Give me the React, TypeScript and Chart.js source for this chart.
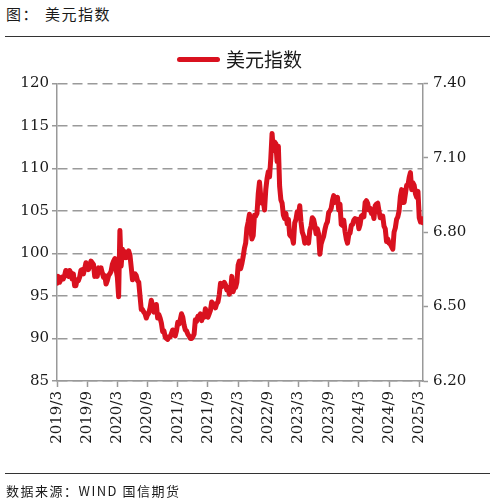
import React, { useEffect, useRef } from "react";
import { Chart, registerables } from "chart.js";

Chart.register(...registerables);

// x tick labels (every 6 months starting 2019/3) and their month offsets
const tickLabels = ["2019/3", "2019/9", "2020/3", "2020/9", "2021/3", "2021/9", "2022/3", "2022/9", "2023/3", "2023/9", "2024/3", "2024/9", "2025/3"];
const tickMonths = [0, 6, 12, 18, 24, 30, 36, 42, 48, 54, 60, 66, 72];
const leftTicks = [85, 90, 95, 100, 105, 110, 115, 120];
const rightTicks = [6.2, 6.5, 6.8, 7.1, 7.4];

// weekly readings (4 per month), starting March 2019
const dxy2019 = [
  96.5, 97.3, 96.6, 96.9, 97.2, 97.0, 97.4, 98.0, 97.5, 97.3, 98.0, 97.7,
  97.0, 97.6, 96.2, 96.2, 96.9, 96.8, 97.2, 98.0, 98.1, 97.6, 98.2, 98.9,
  98.4, 98.1, 98.5, 99.1, 98.9, 98.7, 97.3, 97.8, 97.3, 98.3, 98.1, 98.3,
  97.7, 97.2, 97.4, 96.4,
];
const dxy2020 = [
  96.8, 97.4, 97.6, 97.9, 98.7, 99.1, 99.4, 98.1, 97.2, 94.9, 102.7, 98.5,
  100.5, 99.5, 100.2, 99.5, 99.6, 100.3, 99.8, 98.4, 96.9, 97.3, 97.6, 97.4,
  96.8, 96.6, 95.0, 93.4, 93.4, 93.1, 92.9, 92.4, 92.8, 93.0, 93.6, 94.5,
  93.8, 93.1, 93.2, 94.0, 92.4, 92.8, 92.4, 91.8, 90.8, 90.9, 90.2, 90.0,
];
const dxy2021 = [
  89.9, 90.2, 90.2, 90.6, 91.0, 90.5, 90.3, 90.9, 91.9, 91.7, 92.2, 92.9,
  92.5, 91.6, 91.0, 90.9, 90.5, 90.3, 90.0, 90.0, 90.2, 90.5, 92.2, 92.0,
  92.6, 92.5, 92.9, 92.1, 92.8, 92.5, 93.5, 92.7, 92.5, 92.9, 93.3, 94.3,
  94.1, 93.9, 93.6, 94.1, 94.3, 95.1, 96.5, 96.1, 96.2, 96.6, 96.3, 95.7,
];
const dxy2022 = [
  96.0, 95.2, 95.6, 97.3, 95.5, 96.0, 96.0, 96.6, 98.6, 99.1, 98.2, 98.8,
  99.6, 100.6, 101.2, 103.0, 103.7, 104.6, 103.0, 101.7, 102.1, 104.5, 104.4, 104.7,
  107.0, 108.4, 106.7, 105.9, 106.2, 105.1, 107.5, 108.8, 109.6, 109.0, 111.2, 114.1,
  112.1, 113.1, 112.9, 110.8, 112.6, 107.9, 106.3, 105.9, 104.5, 104.1, 104.7, 103.5,
];
const dxy2023 = [
  104.0, 102.2, 102.0, 101.9, 101.2, 103.6, 104.0, 104.9, 104.5, 105.6, 103.7, 102.5,
  102.1, 101.2, 101.8, 101.6, 101.2, 102.7, 103.2, 104.2, 104.0, 103.3, 102.3, 102.9,
  102.3, 99.9, 101.1, 101.6, 102.0, 102.8, 103.4, 103.7, 104.8, 105.0, 105.3, 106.2,
  106.8, 106.0, 106.2, 106.6, 105.1, 105.8, 103.4, 103.3, 103.9, 102.6, 101.7, 101.2,
];
const dxy2024 = [
  102.2, 102.4, 103.3, 103.4, 103.9, 104.1, 103.9, 104.0, 102.9, 103.4, 104.4, 104.5,
  104.3, 106.0, 106.2, 105.9, 105.1, 105.3, 104.7, 104.8, 104.1, 105.6, 105.8, 105.9,
  105.0, 104.2, 104.4, 104.4, 103.2, 102.9, 101.4, 101.7, 101.2, 101.1, 100.8, 100.5,
  102.5, 103.0, 104.0, 104.3, 105.0, 106.7, 107.5, 106.0, 106.0, 107.0, 108.0, 108.0,
];
const dxy2025 = [
  108.9, 109.5, 107.5, 108.3, 108.0, 107.0, 106.6, 107.3, 104.2, 103.7, 104.1, 103.6,
];

const RED = "#d9111f";
const GRID = "#9a9a9a";
const AXIS = "#999999";
const TEXT = "#1a1a1a";
const CJK = '"Noto Sans CJK SC", "Noto Sans", sans-serif';
const NUM = '"DejaVu Serif", serif';

function DxyChart() {
  const ref = useRef<HTMLCanvasElement | null>(null);
  useEffect(() => {
    if (!ref.current) return;
    const values = [...dxy2019, ...dxy2020, ...dxy2021, ...dxy2022, ...dxy2023, ...dxy2024, ...dxy2025];
    const points = values.map((v, i) => ({ x: i / 4, y: v }));
    const lastX = (values.length - 1) / 4;
    const chart = new Chart(ref.current, {
      type: "line",
      data: {
        datasets: [
          {
            label: "美元指数",
            data: points,
            borderColor: RED,
            backgroundColor: RED,
            borderWidth: 5,
            pointRadius: 0,
            tension: 0,
            borderJoinStyle: "round",
            borderCapStyle: "round",
            yAxisID: "y",
          },
        ],
      },
      options: {
        animation: false,
        responsive: false,
        devicePixelRatio: 1,
        layout: { padding: { top: 83.3, left: 0, right: 0, bottom: 0 } },
        plugins: { legend: { display: false }, tooltip: { enabled: false } },
        scales: {
          x: {
            type: "linear",
            position: "bottom",
            min: 0,
            max: lastX,
            afterBuildTicks: (s: any) => {
              s.ticks = tickMonths.map((v) => ({ value: v }));
            },
            afterFit: (s: any) => {
              s.height = 503 - 381;
            },
            grid: { drawOnChartArea: false, drawTicks: true, tickLength: 6, tickColor: AXIS, tickWidth: 1.5 },
            border: { color: AXIS, width: 1.5 },
            ticks: {
              autoSkip: false,
              minRotation: 90,
              maxRotation: 90,
              padding: 4,
              color: TEXT,
              font: { family: NUM, size: 15 },
              callback: (v: any) => {
                const k = tickMonths.indexOf(Number(v));
                return k >= 0 ? tickLabels[k] : "";
              },
            },
          },
          y: {
            type: "linear",
            position: "left",
            min: leftTicks[0],
            max: leftTicks[leftTicks.length - 1],
            afterBuildTicks: (s: any) => {
              s.ticks = leftTicks.map((v) => ({ value: v }));
            },
            afterFit: (s: any) => {
              s.width = 57;
            },
            grid: { color: GRID, lineWidth: 1.5, drawTicks: true, tickLength: 5, tickColor: AXIS, tickWidth: 1.5, tickBorderDash: [] },
            border: { color: AXIS, width: 1.5, dash: [10, 5] },
            ticks: { padding: 3, color: TEXT, font: { family: NUM, size: 15 } },
          },
          y1: {
            type: "linear",
            position: "right",
            min: rightTicks[0],
            max: rightTicks[rightTicks.length - 1],
            afterBuildTicks: (s: any) => {
              s.ticks = rightTicks.map((v) => ({ value: v }));
            },
            afterFit: (s: any) => {
              s.width = 496 - 423;
            },
            grid: { drawOnChartArea: false, drawTicks: true, tickLength: 5, tickColor: AXIS, tickWidth: 1.5 },
            border: { color: AXIS, width: 1.5 },
            ticks: {
              padding: 5,
              color: TEXT,
              font: { family: NUM, size: 15 },
              callback: (v: any) => Number(v).toFixed(2),
            },
          },
        },
      },
    } as any);
    return () => chart.destroy();
  }, []);
  return <canvas ref={ref} width={496} height={503} style={{ position: "absolute", left: 0, top: 0, width: 496, height: 503 }} />;
}

export default function App() {
  return (
    <div style={{ position: "fixed", left: 0, top: 0, width: 496, height: 503, background: "#fff", overflow: "hidden" }}>
      <div style={{ position: "absolute", left: 6, top: 4, fontFamily: CJK, fontSize: 15, lineHeight: "20px", color: TEXT, whiteSpace: "nowrap", letterSpacing: 1.5 }}>
        <span>图：</span>
        <span style={{ marginLeft: 6 }}>美元指数</span>
      </div>
      <div style={{ position: "absolute", left: 5, top: 35.5, width: 485, height: 1, background: "#333" }} />
      <DxyChart />
      <div style={{ position: "absolute", left: 177, top: 57, width: 43, height: 5, borderRadius: 2.5, background: RED }} />
      <div style={{ position: "absolute", left: 226, top: 47, fontFamily: CJK, fontSize: 19, lineHeight: "24px", color: TEXT, whiteSpace: "nowrap" }}>
        美元指数
      </div>
      <div style={{ position: "absolute", left: 5, top: 472.5, width: 485, height: 1, background: "#333" }} />
      <div style={{ position: "absolute", left: 6, top: 482, fontFamily: CJK, fontSize: 13, lineHeight: "18px", color: TEXT, whiteSpace: "nowrap", letterSpacing: 1.5 }}>
        数据来源：WIND 国信期货
      </div>
    </div>
  );
}
